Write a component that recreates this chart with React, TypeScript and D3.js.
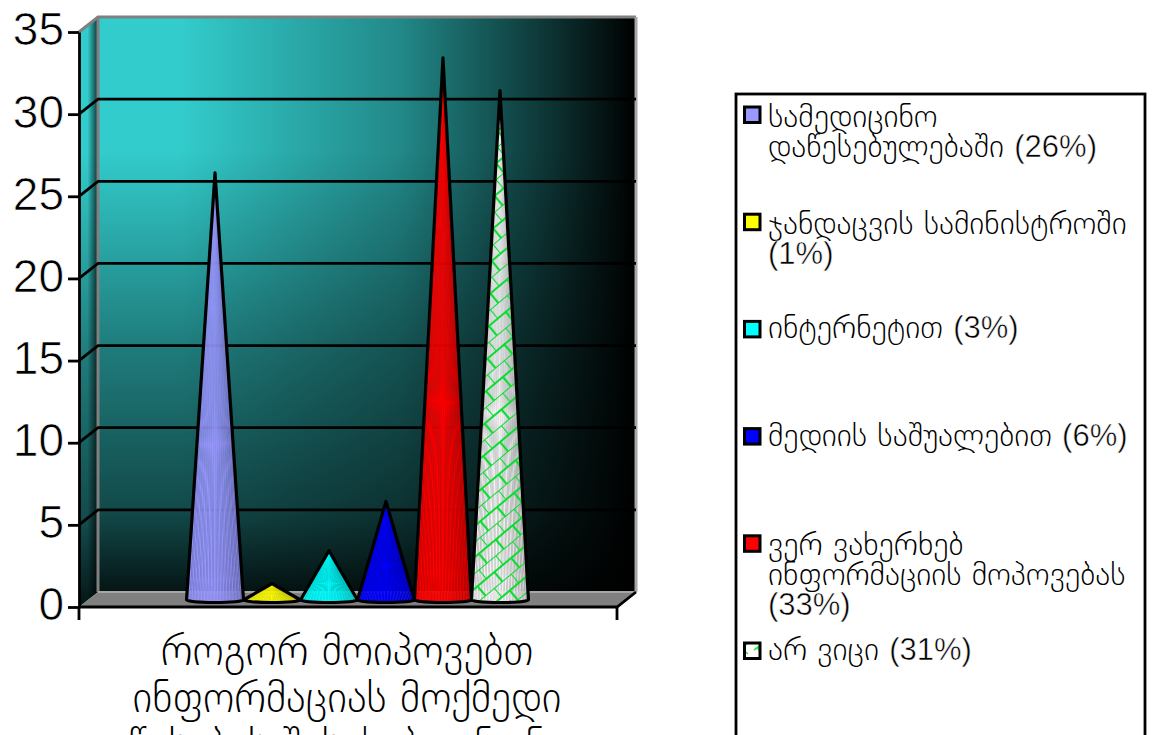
import React, { useEffect, useRef } from 'react'
import * as d3 from 'd3'

const categories = ['სამედიცინო დაწესებულებაში', 'ჯანდაცვის სამინისტროში', 'ინტერნეტით', 'მედიის საშუალებით', 'ვერ ვახერხებ ინფორმაციის მოპოვებას', 'არ ვიცი']
const values = [26, 1, 3, 6, 33, 31]
const colors = ['#9999ff', '#ffff00', '#00ffff', '#0000ff', '#ff0000', '#f6f6f6']
const yTicks = [0, 5, 10, 15, 20, 25, 30, 35]
const legendLines = [
  ['სამედიცინო', 'დაწესებულებაში (26%)'],
  ['ჯანდაცვის სამინისტროში', '(1%)'],
  ['ინტერნეტით (3%)'],
  ['მედიის საშუალებით (6%)'],
  ['ვერ ვახერხებ', 'ინფორმაციის მოპოვებას', '(33%)'],
  ['არ ვიცი (31%)'],
]
const axisTitle = ['როგორ მოიპოვებთ', 'ინფორმაციას მოქმედი', 'წესების შესახებ კანონი']

const LATIN = '"Liberation Sans", sans-serif'
const GEO = '"DejaVu Sans", sans-serif'

export default function App() {
  const ref = useRef<SVGSVGElement | null>(null)

  useEffect(() => {
    const width = 1155
    const height = 735
    const left = 79, right = 617, bottom = 607, top = 32
    const dx = 19, dy = -15 // depth of the 3d box
    const svg = d3.select(ref.current!)
    svg.selectAll('*').remove()
    svg.attr('width', width).attr('height', height).attr('viewBox', `0 0 ${width} ${height}`)
      .style('position', 'fixed').style('left', 0).style('top', 0).style('background', '#fff')

    const y = d3.scaleLinear().domain([0, 35]).range([bottom, top])
    const x = d3.scaleBand<string>().domain(categories).range([left + dx / 2, right + dx / 2]).paddingInner(0).paddingOuter(1.72)

    const defs = svg.append('defs')
    const grad = (id: string, x2: number, y2: number, stops: [number, number][]) => {
      const g = defs.append('linearGradient').attr('id', id).attr('x1', 0).attr('y1', 0).attr('x2', x2).attr('y2', y2)
      stops.forEach(s => g.append('stop').attr('offset', s[0]).attr('stop-color', '#000').attr('stop-opacity', s[1]))
    }
    grad('fadeH', 1, 0, [[0, 0], [0.15, 0], [0.56, 0.33], [0.84, 0.75], [1, 1]])
    grad('fadeV', 0, 1, [[0, 0], [0.23, 0], [0.58, 0.4], [0.86, 0.64], [1, 0.9]])
    grad('fadeL', 1, 0, [[0, 0], [0.45, 0], [1, 0.75]])

    // brick hatch of the last series
    const brickW = 22, brickH = 12
    const brick = defs.append('pattern').attr('id', 'brick').attr('patternUnits', 'userSpaceOnUse')
      .attr('width', brickW).attr('height', brickH * 2).attr('patternTransform', 'rotate(-40)')
    brick.append('path')
      .attr('d', `M0,0H${brickW}M0,${brickH}H${brickW}M0,0V${brickH}M${brickW / 2},${brickH}V${brickH * 2}`)
      .attr('stroke', '#0cdc30').attr('stroke-width', 2.2).attr('fill', 'none')
    const brickS = defs.append('pattern').attr('id', 'brickS').attr('patternUnits', 'userSpaceOnUse')
      .attr('width', 16).attr('height', 16)
    brickS.append('rect').attr('width', 16).attr('height', 16).attr('fill', '#fff')
    brickS.append('path').attr('d', 'M2,10L13,2M5,8L12,14').attr('stroke', '#22ee33').attr('stroke-width', 1.6).attr('fill', 'none')

    // walls
    const wallX = left + dx, wallW = right - left, wallY = top + dy, wallH = bottom - top
    svg.append('rect').attr('x', wallX).attr('y', wallY).attr('width', wallW).attr('height', wallH).attr('fill', '#33cccc')
    svg.append('rect').attr('x', wallX).attr('y', wallY).attr('width', wallW).attr('height', wallH).attr('fill', 'url(#fadeV)')
    svg.append('rect').attr('x', wallX).attr('y', wallY).attr('width', wallW).attr('height', wallH).attr('fill', 'url(#fadeH)')

    const sidePts = `${left},${top} ${wallX},${wallY} ${wallX},${bottom + dy} ${left},${bottom}`
    svg.append('polygon').attr('points', sidePts).attr('fill', '#33cccc')
    svg.append('polygon').attr('points', sidePts).attr('fill', 'url(#fadeV)')
    svg.append('polygon').attr('points', sidePts).attr('fill', 'url(#fadeL)')

    // floor
    svg.append('polygon')
      .attr('points', `${left},${bottom} ${wallX},${bottom + dy} ${right + dx},${bottom + dy} ${right},${bottom}`)
      .attr('fill', '#808080')

    // wall edges
    svg.append('path')
      .attr('d', `M${left},${top}L${wallX},${wallY}H${right + dx}`)
      .attr('fill', 'none').attr('stroke', '#808080').attr('stroke-width', 3)
    svg.append('path').attr('d', `M${wallX},${wallY}V${bottom + dy}`).attr('stroke', '#808080').attr('stroke-width', 3)
    svg.append('path').attr('d', `M${right + dx},${wallY}V${bottom + dy}`).attr('stroke', '#a6a6a6').attr('stroke-width', 3)
    svg.append('path').attr('d', `M${wallX},${bottom + dy}H${right + dx}`).attr('stroke', '#a6a6a6').attr('stroke-width', 2)

    // gridlines
    const grid = svg.append('g').attr('stroke', '#000').attr('stroke-width', 2.8).attr('fill', 'none')
    yTicks.filter(t => t > 0 && t < 35).forEach(t => {
      grid.append('path').attr('d', `M${left},${y(t)}L${wallX},${y(t) + dy}H${right + dx}`)
    })

    // axes
    const yAxis = svg.append('g').attr('transform', `translate(${left},0)`)
      .call(d3.axisLeft(y).tickValues(yTicks).tickSize(11).tickSizeOuter(0).tickPadding(4))
    yAxis.selectAll('path,line').attr('stroke', '#000').attr('stroke-width', 2.8)
    yAxis.selectAll('text').attr('font-family', LATIN).attr('font-size', 46).attr('fill', '#000')
      .attr('dy', '0.28em').attr('stroke', '#fff').attr('stroke-width', 0.7)

    const base = svg.append('g').attr('stroke', '#000').attr('stroke-width', 2.8).attr('fill', 'none')
    base.append('path').attr('d', `M${left},${bottom}H${right}L${right + dx},${bottom + dy}`)
    base.append('path').attr('d', `M${left},${bottom}V${bottom + 13}M${right},${bottom}V${bottom + 13}`)

    // cones
    const rx = x.bandwidth() / 2
    const ry = 2.5
    const coneBase = y(0) - 7
    const cones = svg.append('g')
    const shade = (t: number, i: number) => {
      const f = 1 - 0.2 * Math.pow(Math.abs(t + 0.25) / 1.25, 2)
      return i % 2 ? f : f * 0.93
    }
    categories.forEach((cat, k) => {
      const cx = (x(cat) ?? 0) + rx
      const tip = y(values[k]) - 7
      const outline = `M${cx - rx},${coneBase}L${cx},${tip}L${cx + rx},${coneBase}A${rx},${ry} 0 0 1 ${cx - rx},${coneBase}Z`
      const g = cones.append('g')
      const n = 36
      d3.range(n).forEach(i => {
        const t0 = -1 + (2 * i) / n, t1 = -1 + (2 * (i + 1)) / n
        const yAt = (t: number) => coneBase + ry * Math.sqrt(Math.max(0, 1 - t * t))
        const fill = d3.interpolateRgb('#000', colors[k])(shade((t0 + t1) / 2, i))
        g.append('polygon')
          .attr('points', `${cx},${tip} ${cx + t0 * rx},${yAt(t0)} ${cx + t1 * rx},${yAt(t1)}`)
          .attr('fill', fill).attr('stroke', fill).attr('stroke-width', 0.3)
      })
      if (k === 5) g.append('path').attr('d', outline).attr('fill', 'url(#brick)')
      g.append('path').attr('d', outline).attr('fill', 'none').attr('stroke', '#000').attr('stroke-width', 3.2).attr('stroke-linejoin', 'round')
    })

    // georgian and the percentages use different fonts
    const addLine = (parent: any, line: string, px: number, py: number, geoSize: number, latinSize: number) => {
      const t = parent.append('text').attr('x', px).attr('y', py)
      line.split(/(\(\d+%\))/).filter(Boolean).forEach(run => {
        const latin = run.startsWith('(')
        t.append('tspan').text(run)
          .attr('font-family', latin ? LATIN : GEO)
          .attr('font-weight', latin ? 400 : 200)
          .attr('font-size', latin ? latinSize : geoSize)
          .attr('stroke', latin ? '#fff' : 'none')
          .attr('stroke-width', latin ? 0.5 : 0)
      })
    }

    // category title
    const title = svg.append('g').attr('text-anchor', 'middle').attr('fill', '#000')
    axisTitle.forEach((line, i) => addLine(title, line, 347, 665 + i * 47, 42, 42))

    // legend
    svg.append('rect').attr('x', 736).attr('y', 94).attr('width', 409).attr('height', 700)
      .attr('fill', '#fff').attr('stroke', '#000').attr('stroke-width', 2.8)
    const legend = svg.append('g').attr('fill', '#000')
    const rowY = d3.scaleLinear().domain([0, categories.length - 1]).range([115, 651])
    categories.forEach((_, k) => {
      const cy = rowY(k)
      legend.append('rect').attr('x', 744.5).attr('y', cy - 8).attr('width', 15.5).attr('height', 15.5)
        .attr('fill', k === 5 ? 'url(#brickS)' : colors[k]).attr('stroke', '#000').attr('stroke-width', 3)
      const first = cy + 9 + (legendLines[k].length > 1 ? 2.5 : 0)
      legendLines[k].forEach((line, i) => addLine(legend, line, 768, first + i * 30, 32, 31))
    })
  }, [])

  return <svg ref={ref} />
}
